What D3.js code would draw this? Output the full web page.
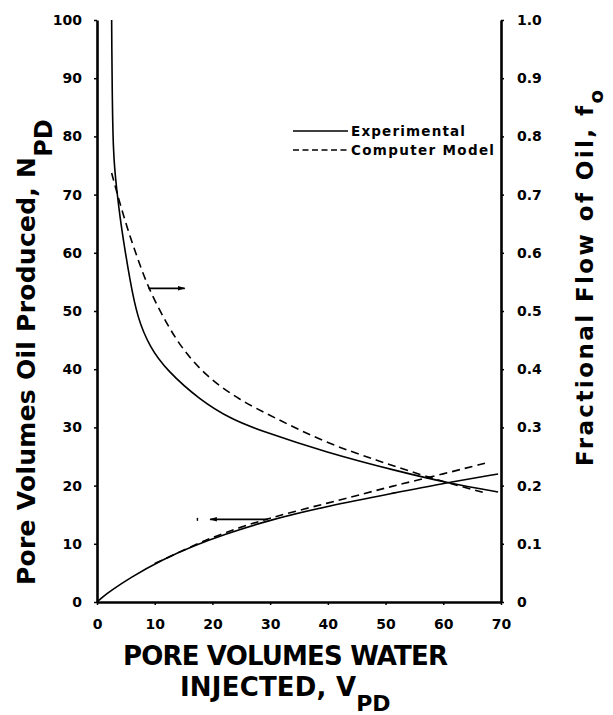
<!DOCTYPE html>
<html>
<head>
<meta charset="utf-8">
<script src="https://cdn.jsdelivr.net/npm/d3@7.9.0/dist/d3.min.js"></script>
<style>
  body { margin: 0; background: #fff; }
  svg { display: block; font-family: "DejaVu Sans", sans-serif; font-weight: bold; }
</style>
</head>
<body>
<svg></svg>
<script>
// fractional flow of oil (right axis)
const expFoV = [2.54, 2.56, 2.65, 2.82, 3.1, 3.4, 4.0, 4.6, 5.7, 7.0, 9.2, 12, 17.8, 23.5, 28.2, 39.7, 52.4, 61, 69.5];
const expFo  = [1.0, 0.96, 0.86, 0.777, 0.74, 0.71, 0.66, 0.62, 0.553, 0.488, 0.437, 0.399, 0.347, 0.313, 0.295, 0.257, 0.224, 0.204, 0.189];
const modFoV = [2.54, 3.4, 5, 6.85, 8.9, 12, 14.9, 19, 24.7, 30.5, 39.7, 48.9, 56.3, 61, 67.4];
const modFo  = [0.737, 0.705, 0.65, 0.595, 0.539, 0.479, 0.433, 0.387, 0.347, 0.318, 0.273, 0.242, 0.218, 0.204, 0.187];

// pore volumes oil produced (left axis)
const expNpV = [0, 1, 2.5, 5.6, 11.3, 17.1, 21.7, 29.9, 40, 52.4, 60, 69.5];
const expNp  = [0, 0.9, 2.0, 4.1, 7.3, 9.8, 11.5, 14.1, 16.5, 18.9, 20.4, 22.0];
const modNpV = [10, 17.1, 21.7, 29.6, 40, 48.9, 52.4, 60, 67.4];
const modNp  = [6.6, 9.9, 11.8, 14.4, 17.0, 19.3, 20.2, 22.0, 23.9];

const xTicks = [0, 10, 20, 30, 40, 50, 60, 70];
const leftTicks = [0, 10, 20, 30, 40, 50, 60, 70, 80, 90, 100];
const rightTicks = [0, 0.1, 0.2, 0.3, 0.4, 0.5, 0.6, 0.7, 0.8, 0.9, 1.0];

// arrows pointing at the axis each curve belongs to: [V start, V end, value]
const foArrow = [8.9, 15.2, 0.539];
const npArrow = [29.6, 19.6, 14.2];

const width = 613, height = 715;
const svg = d3.select("svg").attr("width", width).attr("height", height);

const x = d3.scaleLinear().domain([0, 70]).range([97, 501]);
const yL = d3.scaleLinear().domain([0, 100]).range([602, 20]);
const yR = d3.scaleLinear().domain([0, 1]).range([602, 20]);

svg.append("defs").append("marker")
  .attr("id", "head")
  .attr("viewBox", "0 -4 10 8")
  .attr("refX", 9).attr("refY", 0)
  .attr("markerUnits", "userSpaceOnUse")
  .attr("markerWidth", 9).attr("markerHeight", 6)
  .attr("orient", "auto")
  .append("path")
  .attr("d", "M0,-3L10,0L0,3Z")
  .attr("fill", "#000");

// axes
const fmtR = d => d === 0 ? "0" : d3.format(".1f")(d);

const gx = svg.append("g")
  .attr("transform", "translate(0,602)")
  .call(d3.axisBottom(x).tickValues(xTicks).tickSize(3).tickSizeOuter(0).tickPadding(14));
const gl = svg.append("g")
  .attr("transform", "translate(97,0)")
  .call(d3.axisLeft(yL).tickValues(leftTicks).tickSize(3).tickSizeOuter(0).tickPadding(12));
const gr = svg.append("g")
  .attr("transform", "translate(501,0)")
  .call(d3.axisRight(yR).tickValues(rightTicks).tickFormat(fmtR).tickSize(3).tickSizeOuter(0).tickPadding(13));

[gx, gl, gr].forEach(g => {
  g.select(".domain").attr("stroke-width", 2.6);
  g.selectAll(".tick line").attr("stroke-width", 1.5);
  g.selectAll(".tick text")
    .attr("font-size", 14)
    .attr("font-family", "DejaVu Sans, sans-serif")
    .attr("font-weight", "bold")
    .attr("fill", "#000");
});

// curves
const line = d3.line().curve(d3.curveBasis);
const series = [
  { v: expFoV, y: expFo, s: yR, dash: null },
  { v: modFoV, y: modFo, s: yR, dash: "8,5" },
  { v: expNpV, y: expNp, s: yL, dash: null },
  { v: modNpV, y: modNp, s: yL, dash: "8,5" }
];
svg.append("g")
  .selectAll("path")
  .data(series)
  .join("path")
  .attr("fill", "none")
  .attr("stroke", "#000")
  .attr("stroke-width", 1.6)
  .attr("stroke-dasharray", d => d.dash)
  .attr("d", d => line(d.v.map((v, i) => [x(v), d.s(d.y[i])])));

// arrows
svg.append("line")
  .attr("x1", x(foArrow[0])).attr("x2", x(foArrow[1]))
  .attr("y1", yR(foArrow[2])).attr("y2", yR(foArrow[2]))
  .attr("stroke", "#000").attr("stroke-width", 1.8)
  .attr("marker-end", "url(#head)");
svg.append("line")
  .attr("x1", x(npArrow[0])).attr("x2", x(npArrow[1]))
  .attr("y1", yL(npArrow[2])).attr("y2", yL(npArrow[2]))
  .attr("stroke", "#000").attr("stroke-width", 1.8)
  .attr("marker-end", "url(#head)");
svg.append("line")
  .attr("x1", x(17.4)).attr("x2", x(17.4))
  .attr("y1", yL(npArrow[2]) - 1.5).attr("y2", yL(npArrow[2]) + 1.5)
  .attr("stroke", "#000").attr("stroke-width", 1.4);

// legend
const legend = svg.append("g");
[["Experimental", null, 131, 114], ["Computer Model", "6,3.5", 150, 143]].forEach(([label, dash, ly, len]) => {
  legend.append("line")
    .attr("x1", 293).attr("x2", 348)
    .attr("y1", ly).attr("y2", ly)
    .attr("stroke", "#000").attr("stroke-width", 1.5)
    .attr("stroke-dasharray", dash);
  legend.append("text")
    .attr("x", 351).attr("y", ly + 5)
    .attr("font-size", 13.5)
    .attr("textLength", len).attr("lengthAdjust", "spacing")
    .text(label);
});

// axis titles
const lt = svg.append("text")
  .attr("transform", "translate(35,585) rotate(-90)")
  .attr("font-size", 25);
lt.append("tspan").attr("textLength", 428).attr("lengthAdjust", "spacing")
  .text("Pore Volumes Oil Produced, N");
lt.append("tspan").attr("dy", 17).attr("font-size", 24).text("PD");

const rt = svg.append("text")
  .attr("transform", "translate(593,466) rotate(-90)")
  .attr("font-size", 23);
rt.append("tspan").attr("textLength", 360).attr("lengthAdjust", "spacing")
  .text("Fractional Flow of Oil, f");
rt.append("tspan").attr("dy", 10).attr("font-size", 20).text("o");

svg.append("text")
  .attr("x", 123).attr("y", 665)
  .attr("font-size", 26)
  .attr("textLength", 325).attr("lengthAdjust", "spacing")
  .text("PORE VOLUMES WATER");
const xt = svg.append("text")
  .attr("x", 180).attr("y", 696)
  .attr("font-size", 26);
xt.append("tspan").attr("textLength", 176).attr("lengthAdjust", "spacing").text("INJECTED, V");
xt.append("tspan").attr("dy", 15).attr("font-size", 22).text("PD");
</script>
</body>
</html>
